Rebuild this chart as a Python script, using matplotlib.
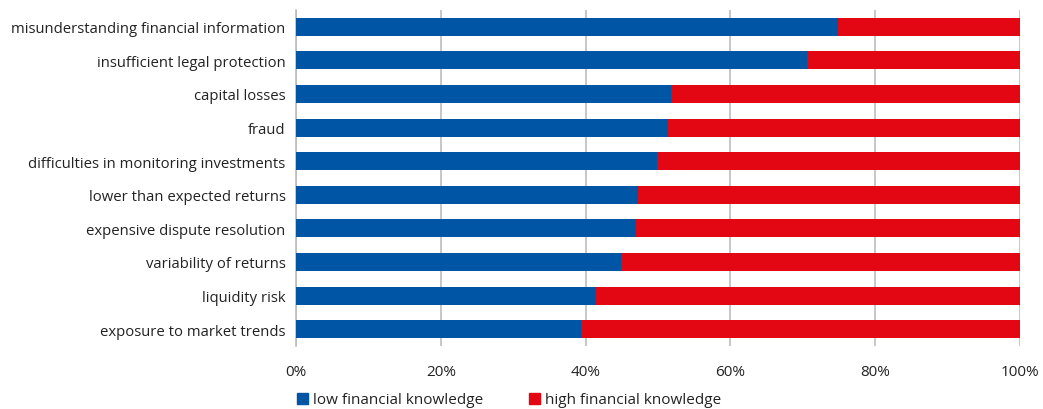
import matplotlib
matplotlib.use("Agg")
import matplotlib.pyplot as plt
from matplotlib.patches import Patch
from matplotlib.ticker import FuncFormatter

plt.rcParams['font.family'] = ['Open Sans', 'DejaVu Sans']

categories = [
    'misunderstanding financial information',
    'insufficient legal protection',
    'capital losses',
    'fraud',
    'difficulties in monitoring investments',
    'lower than expected returns',
    'expensive dispute resolution',
    'variability of returns',
    'liquidity risk',
    'exposure to market trends',
]
low_knowledge = [74.9, 70.6, 51.8, 51.4, 49.9, 47.3, 47.0, 44.9, 41.4, 39.4]
high_knowledge = [100 - v for v in low_knowledge]

blue = '#0055A4'
red = '#E30613'
text_col = '#222222'

fig = plt.figure(figsize=(10.43, 4.10), dpi=100)
ax = fig.add_axes([296 / 1043, 63 / 410, 724 / 1043, 336 / 410])

ypos = list(range(len(categories)))
ax.barh(ypos, low_knowledge, height=0.54, color=blue, zorder=3)
ax.barh(ypos, high_knowledge, left=low_knowledge, height=0.54, color=red, zorder=3)

ax.set_xlim(0, 100)
ax.set_ylim(len(categories) - 0.5, -0.5)
ax.set_yticks(ypos)
ax.set_yticklabels(categories, fontsize=10.7, color=text_col)
ax.set_xticks([0, 20, 40, 60, 80, 100])
ax.xaxis.set_major_formatter(FuncFormatter(lambda v, p: '%d%%' % v))
ax.tick_params(axis='x', length=0, pad=13, labelsize=11, labelcolor=text_col)
ax.tick_params(axis='y', length=0, pad=7.5)

ax.grid(axis='x', color='#BDBDBD', linewidth=1.2, zorder=0)
for side in ['top', 'right', 'bottom']:
    ax.spines[side].set_visible(False)
ax.spines['left'].set_color('#BDBDBD')
ax.spines['left'].set_linewidth(1.2)

handles = [Patch(color=blue, label='low financial knowledge'),
           Patch(color=red, label='high financial knowledge')]
fig.legend(handles=handles, loc='center left', bbox_to_anchor=(297 / 1043, 9 / 410),
           ncol=2, frameon=False, fontsize=11, handlelength=0.7, handleheight=0.7,
           handletextpad=0.35, columnspacing=3.0, labelcolor=text_col,
           borderaxespad=0, borderpad=0)

fig.savefig('out.png', dpi=100)
